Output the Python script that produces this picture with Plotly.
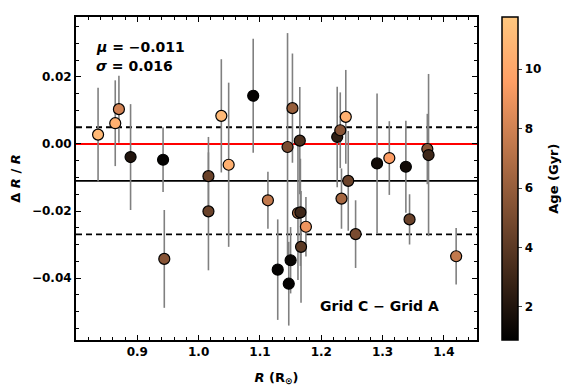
import plotly.graph_objects as go

# radius (R_sun), fractional difference, error and age (Gyr)
radius = [0.836, 0.864, 0.870, 0.889, 0.942, 0.944, 1.016, 1.016, 1.037, 1.049,
          1.089, 1.113, 1.129, 1.145, 1.153, 1.147, 1.150, 1.165, 1.162, 1.166,
          1.175, 1.167, 1.226, 1.231, 1.240, 1.233, 1.244, 1.256, 1.291, 1.311,
          1.338, 1.344, 1.373, 1.375, 1.420]
delta_r = [0.0028, 0.0062, 0.0104, -0.0039, -0.0047, -0.0343, -0.0096, -0.0201, 0.0084, -0.0062,
           0.0144, -0.0168, -0.0375, -0.0009, 0.0107, -0.0417, -0.0347, 0.0010, -0.0206, -0.0204,
           -0.0247, -0.0307, 0.0021, 0.0041, 0.0081, -0.0163, -0.0110, -0.0269, -0.0058, -0.0042,
           -0.0068, -0.0225, -0.0015, -0.0033, -0.0335]
delta_err = [0.0140, 0.0128, 0.0100, 0.0158, 0.0096, 0.0146, 0.0117, 0.0176, 0.0169, 0.0245,
             0.0170, 0.0085, 0.0150, 0.0340, 0.0163, 0.0125, 0.0099, 0.0160, 0.0200, 0.0160,
             0.0089, 0.0167, 0.0150, 0.0113, 0.0140, 0.0090, 0.0149, 0.0101, 0.0209, 0.0110,
             0.0137, 0.0075, 0.0105, 0.0242, 0.0084]
age = [11.0, 10.5, 8.0, 2.0, 1.0, 5.5, 4.5, 4.5, 11.0, 10.5,
       1.0, 7.5, 1.0, 5.0, 6.0, 1.0, 1.2, 3.5, 6.5, 3.0,
       9.0, 4.0, 2.5, 5.5, 10.5, 6.5, 4.5, 5.0, 1.5, 9.5,
       1.5, 4.5, 5.5, 3.0, 7.5]

mu = -0.011
sigma = 0.016

copper = [[0.0, "rgb(0,0,0)"], [0.8, "rgb(255,159,101)"], [1.0, "rgb(255,199,127)"]]
font = "DejaVu Sans"

fig = go.Figure()
fig.add_trace(
    go.Scatter(
        x=radius,
        y=delta_r,
        mode="markers",
        error_y=dict(type="data", array=delta_err, color="#808080", thickness=1.6, width=0),
        marker=dict(
            size=11,
            color=age,
            colorscale=copper,
            cmin=0.88,
            cmax=11.76,
            line=dict(color="black", width=1.2),
            colorbar=dict(
                x=1.062,
                xanchor="left",
                y=0.5,
                len=1.0,
                thickness=16,
                xpad=0,
                ypad=0,
                outlinewidth=1.5,
                outlinecolor="black",
                ticks="outside",
                ticklen=4,
                tickwidth=1.2,
                tickvals=[2, 4, 6, 8, 10],
                tickfont=dict(family=font, size=12, color="black", weight="bold"),
            ),
        ),
        showlegend=False,
    )
)

fig.add_hline(y=0, line_color="red", line_width=1.8, layer="below")
fig.add_hline(y=mu, line_color="black", line_width=1.8, layer="below")
fig.add_hline(y=mu + sigma, line_color="black", line_width=1.8, line_dash="6px,4px", layer="below")
fig.add_hline(y=mu - sigma, line_color="black", line_width=1.8, line_dash="6px,4px", layer="below")

fig.add_annotation(
    xref="paper", yref="paper", x=0.045, y=0.907, xanchor="left", yanchor="middle",
    text=f"<b><i>μ</i> = −{abs(mu):.3f}</b>", showarrow=False,
    font=dict(family=font, size=14, color="black"),
)
fig.add_annotation(
    xref="paper", yref="paper", x=0.045, y=0.848, xanchor="left", yanchor="middle",
    text=f"<b><i>σ</i> = {sigma:.3f}</b>", showarrow=False,
    font=dict(family=font, size=14, color="black"),
)
fig.add_annotation(
    xref="paper", yref="paper", x=0.758, y=0.105, xanchor="center", yanchor="middle",
    text="<b>Grid C − Grid A</b>", showarrow=False,
    font=dict(family=font, size=14, color="black"),
)
# colorbar label
fig.add_annotation(
    xref="paper", yref="paper", x=1.19, y=0.5, xanchor="center", yanchor="middle",
    text="<b>Age (Gyr)</b>", textangle=-90, showarrow=False,
    font=dict(family=font, size=13, color="black"),
)

axis_common = dict(
    showgrid=False,
    zeroline=False,
    showline=True,
    linecolor="black",
    linewidth=2,
    mirror="allticks",
    ticks="inside",
    ticklen=5,
    tickwidth=1.2,
    tickcolor="black",
    automargin=False,
    tickfont=dict(family=font, size=12, color="black", weight="bold"),
)

# the page body keeps its 8px margin, so the figure is 8px smaller on each axis
fig.update_layout(
    width=563,
    height=379,
    margin=dict(l=68, r=94, t=9, b=47, autoexpand=False),
    plot_bgcolor="white",
    paper_bgcolor="white",
    font=dict(family=font, color="black"),
    xaxis=dict(
        range=[0.80, 1.454],
        tickvals=[0.9, 1.0, 1.1, 1.2, 1.3, 1.4],
        ticktext=["0.9", "1.0", "1.1", "1.2", "1.3", "1.4"],
        minor=dict(dtick=0.02, tick0=0.8, ticks="inside", ticklen=3, tickcolor="black", tickwidth=1),
        title=dict(text="<b><i>R</i> (R<sub>⊙</sub>)</b>", font=dict(family=font, size=13), standoff=14),
        **axis_common,
    ),
    yaxis=dict(
        range=[-0.0585, 0.0379],
        tickvals=[-0.04, -0.02, 0.0, 0.02],
        ticktext=["−0.04", "−0.02", "0.00", "0.02"],
        minor=dict(dtick=0.005, tick0=0, ticks="inside", ticklen=3, tickcolor="black", tickwidth=1),
        title=dict(text="<b>Δ <i>R</i> / <i>R</i></b>", font=dict(family=font, size=13), standoff=10),
        **axis_common,
    ),
)

fig.write_html("out.html")
